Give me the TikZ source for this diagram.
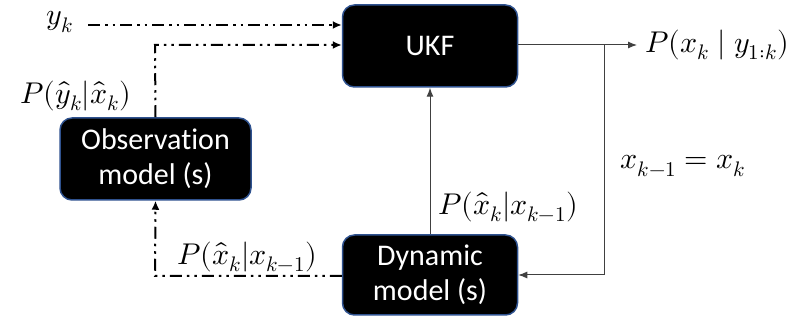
\documentclass[tikz,border=0pt]{standalone}
\usepackage{fontspec}
\usepackage{unicode-math}
\setmathfont{Latin Modern Math}
\setsansfont{Carlito}[Ligatures=NoCommon]
\usetikzlibrary{arrows.meta}
\definecolor{boxblue}{HTML}{2F528F}
\begin{document}
\begin{tikzpicture}[x=1pt,y=-1pt,
  blk/.style={draw=boxblue, line width=1.5pt, fill=black, rounded corners=12pt, text=white,
    font=\sffamily\fontsize{30}{35}\selectfont, align=center, inner sep=0pt},
  lbl/.style={font=\fontsize{30}{34}\selectfont, inner sep=0pt},
  solidc/.style={draw=black!75, line width=1pt, -{Latex[length=9pt,width=7pt]}},
  dd/.style={draw=black, line width=2pt, dash pattern=on 12pt off 5pt on 2.5pt off 5pt on 2.5pt off 5pt},
  ddarrow/.style={dd, -{Latex[length=9pt,width=8pt]}}
]
\useasboundingbox (0,0) rectangle (798,320);
\node[blk, minimum width=175pt, minimum height=82pt] (ukf) at (430,46) {UKF};
\node[blk, minimum width=191pt, minimum height=82pt] (obs) at (155.5,159) {Observation\\model (s)};
\node[blk, minimum width=175pt, minimum height=80pt] (dyn) at (430,275) {Dynamic\\model (s)};

\node[lbl] (yk) at (60,22) {$y_k$};
\node[lbl, anchor=east] (pyx) at (131,96) {$P(\hat{y}_k|\hat{x}_k)$};
\node[lbl] (pxl) at (247,257) {$P(\hat{x}_k|x_{k-1})$};
\node[lbl] (pxr) at (508,207) {$P(\hat{x}_k|x_{k-1})$};
\node[lbl] (eq) at (683,166) {$x_{k-1}=x_k$};
\node[lbl, anchor=west] (out) at (645,45) {$P(x_k \mid y_{1:k})$};

\coordinate (c1) at (155,45);
\coordinate (c2) at (604,45);
\coordinate (c3) at (604,275);
\coordinate (c4) at (155,276);
\coordinate (ykend) at (88,25);

\draw[ddarrow] (ykend) -- (ukf.west |- ykend);
\draw[ddarrow] (obs.north) -- (c1) -- (ukf.west |- c1);
\draw[ddarrow] (dyn.west |- c4) -- (c4) -- (obs.south);
\draw[solidc] (dyn.north) -- (ukf.south);
\draw[solidc] (ukf.east |- c2) -- ([xshift=-8pt]out.west);
\draw[solidc] (c2) -- (c3) -- (dyn.east |- c3);
\end{tikzpicture}
\end{document}
